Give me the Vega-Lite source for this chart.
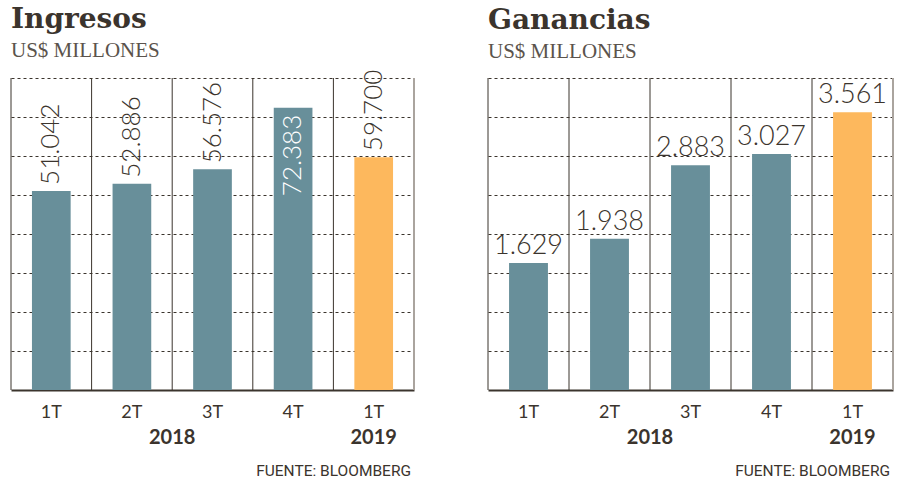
{
  "$schema": "https://vega.github.io/schema/vega-lite/v6.json",
  "background": "white",
  "padding": {"left": 10, "right": 10, "top": 5, "bottom": 0},
  "spacing": 72,
  "config": {
    "view": {"stroke": null},
    "locale": {"number": {"decimal": ",", "thousands": ".", "grouping": [3], "currency": ["$", ""]}},
    "title": {"font": "DejaVu Serif", "fontSize": 28, "fontWeight": "bold", "color": "#3b342d", "anchor": "start", "frame": "group", "subtitleFont": "Liberation Serif", "subtitleFontSize": 21, "subtitleColor": "#5b534c", "subtitlePadding": 6, "offset": 12},
    "axisX": {"title": null, "labelExpr": "split(datum.label, ' ')[0]", "labelFont": "Lato", "labelFontSize": 18, "labelColor": "#3b342d", "labelAngle": 0, "labelPadding": 13, "ticks": false, "grid": false, "domain": true, "domainColor": "#3b342d", "domainWidth": 2},
    "axisY": {"title": null, "labels": false, "ticks": false, "domain": false, "grid": true, "gridDash": [3, 3], "gridColor": "#3b342d", "gridWidth": 1}
  },
  "datasets": {
    "ingresos": [
      {"q": "1T 2018", "year": "2018", "v": 51042},
      {"q": "2T 2018", "year": "2018", "v": 52886},
      {"q": "3T 2018", "year": "2018", "v": 56576},
      {"q": "4T 2018", "year": "2018", "v": 72383},
      {"q": "1T 2019", "year": "2019", "v": 59700}
    ],
    "ganancias": [
      {"q": "1T 2018", "year": "2018", "v": 1629},
      {"q": "2T 2018", "year": "2018", "v": 1938},
      {"q": "3T 2018", "year": "2018", "v": 2883},
      {"q": "4T 2018", "year": "2018", "v": 3027},
      {"q": "1T 2019", "year": "2019", "v": 3561}
    ]
  },
  "hconcat": [
    {
      "width": 403,
      "height": 312,
      "title": {"text": "Ingresos", "subtitle": "US$ MILLONES", "offset": 9},
      "data": {"name": "ingresos"},
      "layer": [
        {
          "mark": {"type": "bar", "width": {"band": 0.48}},
          "encoding": {
            "x": {"field": "q", "type": "nominal", "scale": {"domain": ["1T 2018", "2T 2018", "3T 2018", "4T 2018", "1T 2019"], "paddingInner": 0, "paddingOuter": 0}},
            "y": {"field": "v", "type": "quantitative", "scale": {"domain": [0, 80000], "nice": false}, "axis": {"values": [10000, 20000, 30000, 40000, 50000, 60000, 70000, 80000]}},
            "color": {"field": "year", "type": "nominal", "scale": {"domain": ["2018", "2019"], "range": ["#688f9a", "#fdb85d"]}, "legend": null}
          }
        },
        {
          "mark": {"type": "rule", "color": "#3b342d", "strokeWidth": 1},
          "encoding": {"x": {"field": "q", "type": "nominal", "bandPosition": 0}}
        },
        {
          "transform": [{"filter": "datum.q == '1T 2019'"}],
          "mark": {"type": "rule", "color": "#aaa49e", "strokeWidth": 2},
          "encoding": {"x": {"field": "q", "type": "nominal", "bandPosition": 1}}
        },
        {
          "transform": [{"filter": "datum.v < 70000"}],
          "mark": {"type": "text", "angle": 270, "align": "left", "baseline": "middle", "dx": 6, "font": "Lato", "fontWeight": 300, "fontSize": 26, "color": "#3b342d"},
          "encoding": {
            "x": {"field": "q", "type": "nominal"},
            "y": {"field": "v", "type": "quantitative"},
            "text": {"field": "v", "type": "quantitative", "format": ",d"}
          }
        },
        {
          "transform": [{"filter": "datum.v >= 70000"}],
          "mark": {"type": "text", "angle": 270, "align": "right", "baseline": "middle", "dx": -7, "font": "Lato", "fontWeight": 300, "fontSize": 26, "color": "white"},
          "encoding": {
            "x": {"field": "q", "type": "nominal"},
            "y": {"field": "v", "type": "quantitative"},
            "text": {"field": "v", "type": "quantitative", "format": ",d"}
          }
        },
        {
          "data": {"values": [{"q": "2T 2018", "t": "2018"}]},
          "mark": {"type": "text", "align": "center", "baseline": "middle", "dy": 48, "font": "Lato", "fontWeight": "bold", "fontSize": 20, "color": "#3b342d"},
          "encoding": {"x": {"field": "q", "type": "nominal", "bandPosition": 1}, "y": {"datum": 0}, "text": {"field": "t"}}
        },
        {
          "data": {"values": [{"q": "1T 2019", "t": "2019"}]},
          "mark": {"type": "text", "align": "center", "baseline": "middle", "dy": 48, "font": "Lato", "fontWeight": "bold", "fontSize": 20, "color": "#3b342d"},
          "encoding": {"x": {"field": "q", "type": "nominal", "bandPosition": 0.5}, "y": {"datum": 0}, "text": {"field": "t"}}
        },
        {
          "data": {"values": [{"q": "1T 2019", "t": "FUENTE: BLOOMBERG"}]},
          "mark": {"type": "text", "align": "right", "baseline": "middle", "dy": 81, "dx": -3, "font": "Roboto", "fontSize": 15.5, "color": "#3b342d"},
          "encoding": {"x": {"field": "q", "type": "nominal", "bandPosition": 1}, "y": {"datum": 0}, "text": {"field": "t"}}
        }
      ]
    },
    {
      "width": 405,
      "height": 312,
      "title": {"text": "Ganancias", "subtitle": "US$ MILLONES", "offset": 15},
      "data": {"name": "ganancias"},
      "layer": [
        {
          "mark": {"type": "bar", "width": {"band": 0.48}},
          "encoding": {
            "x": {"field": "q", "type": "nominal", "scale": {"domain": ["1T 2018", "2T 2018", "3T 2018", "4T 2018", "1T 2019"], "paddingInner": 0, "paddingOuter": 0}},
            "y": {"field": "v", "type": "quantitative", "scale": {"domain": [0, 4000], "nice": false}, "axis": {"values": [500, 1000, 1500, 2000, 2500, 3000, 3500, 4000]}},
            "color": {"field": "year", "type": "nominal", "scale": {"domain": ["2018", "2019"], "range": ["#688f9a", "#fdb85d"]}, "legend": null}
          }
        },
        {
          "mark": {"type": "rule", "color": "#3b342d", "strokeWidth": 1},
          "encoding": {"x": {"field": "q", "type": "nominal", "bandPosition": 0}}
        },
        {
          "transform": [{"filter": "datum.q == '1T 2019'"}],
          "mark": {"type": "rule", "color": "#aaa49e", "strokeWidth": 2},
          "encoding": {"x": {"field": "q", "type": "nominal", "bandPosition": 1}}
        },
        {
          "mark": {"type": "text", "align": "center", "baseline": "bottom", "dy": -3, "font": "Lato", "fontWeight": 300, "fontSize": 27, "color": "#3b342d"},
          "encoding": {
            "x": {"field": "q", "type": "nominal"},
            "y": {"field": "v", "type": "quantitative"},
            "text": {"field": "v", "type": "quantitative", "format": ",d"}
          }
        },
        {
          "data": {"values": [{"q": "2T 2018", "t": "2018"}]},
          "mark": {"type": "text", "align": "center", "baseline": "middle", "dy": 48, "font": "Lato", "fontWeight": "bold", "fontSize": 20, "color": "#3b342d"},
          "encoding": {"x": {"field": "q", "type": "nominal", "bandPosition": 1}, "y": {"datum": 0}, "text": {"field": "t"}}
        },
        {
          "data": {"values": [{"q": "1T 2019", "t": "2019"}]},
          "mark": {"type": "text", "align": "center", "baseline": "middle", "dy": 48, "font": "Lato", "fontWeight": "bold", "fontSize": 20, "color": "#3b342d"},
          "encoding": {"x": {"field": "q", "type": "nominal", "bandPosition": 0.5}, "y": {"datum": 0}, "text": {"field": "t"}}
        },
        {
          "data": {"values": [{"q": "1T 2019", "t": "FUENTE: BLOOMBERG"}]},
          "mark": {"type": "text", "align": "right", "baseline": "middle", "dy": 81, "dx": -3, "font": "Roboto", "fontSize": 15.5, "color": "#3b342d"},
          "encoding": {"x": {"field": "q", "type": "nominal", "bandPosition": 1}, "y": {"datum": 0}, "text": {"field": "t"}}
        }
      ]
    }
  ]
}
